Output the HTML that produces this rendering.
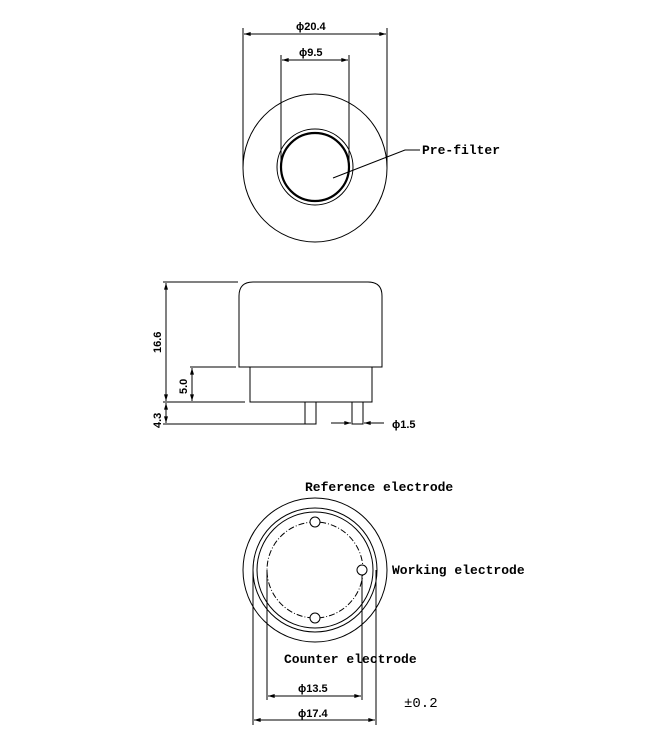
<!DOCTYPE html>
<html><head><style>
html,body{margin:0;padding:0;background:#fff;width:646px;height:744px;overflow:hidden}
svg{display:block}
text{font-family:"Liberation Mono",monospace;fill:#000}
.b{font-family:"Liberation Sans",sans-serif;font-weight:bold;font-size:11px}
</style></head><body>
<svg width="646" height="744" viewBox="0 0 646 744" xmlns="http://www.w3.org/2000/svg">
<defs>
<marker id="a" viewBox="0 0 10 6" refX="10" refY="3" markerWidth="7" markerHeight="4" markerUnits="userSpaceOnUse" orient="auto-start-reverse"><path d="M0,0 L10,3 L0,6 Z" fill="#000"/></marker>
</defs>
<g fill="none" stroke="#000" stroke-width="1">
<ellipse cx="315" cy="168" rx="72" ry="74"/>
<circle cx="315" cy="167" r="38"/>
<circle cx="315" cy="167" r="34" stroke-width="2.2"/>
<line x1="243" y1="28" x2="243" y2="168"/>
<line x1="387" y1="28" x2="387" y2="168"/>
<line x1="281" y1="55" x2="281" y2="165"/>
<line x1="349" y1="55" x2="349" y2="165"/>
<line x1="244" y1="34" x2="386" y2="34" marker-start="url(#a)" marker-end="url(#a)"/>
<line x1="282" y1="60" x2="348" y2="60" marker-start="url(#a)" marker-end="url(#a)"/>
<polyline points="333,178 405,150 420,150"/>
<path d="M239,367 L239,296 Q239,282 253,282 L368,282 Q382,282 382,296 L382,367 Z"/>
<rect x="250" y="367" width="122" height="35"/>
<rect x="305" y="402" width="11" height="22"/>
<rect x="352" y="402" width="11" height="22"/>
<line x1="163" y1="282" x2="238" y2="282"/>
<line x1="190" y1="367" x2="236" y2="367"/>
<line x1="163" y1="402" x2="245" y2="402"/>
<line x1="163" y1="424" x2="305" y2="424"/>
<line x1="166" y1="283" x2="166" y2="401" marker-start="url(#a)" marker-end="url(#a)"/>
<line x1="192" y1="368" x2="192" y2="401" marker-start="url(#a)" marker-end="url(#a)"/>
<line x1="166" y1="403" x2="166" y2="423" marker-start="url(#a)" marker-end="url(#a)"/>
<line x1="331" y1="423" x2="351" y2="423" marker-end="url(#a)"/>
<line x1="384" y1="423" x2="364" y2="423" marker-end="url(#a)"/>
<circle cx="315" cy="570" r="72"/>
<circle cx="315" cy="570" r="62"/>
<circle cx="315" cy="570" r="58"/>
<circle cx="315" cy="570" r="48" stroke-dasharray="6,2,1,2"/>
<circle cx="315" cy="522" r="5" fill="#fff"/>
<circle cx="362" cy="570" r="5" fill="#fff"/>
<circle cx="315" cy="618" r="5" fill="#fff"/>
<line x1="267" y1="570" x2="267" y2="700"/>
<line x1="362" y1="575" x2="362" y2="700"/>
<line x1="253" y1="570" x2="253" y2="725"/>
<line x1="376" y1="570" x2="376" y2="725"/>
<line x1="268" y1="696" x2="361" y2="696" marker-start="url(#a)" marker-end="url(#a)"/>
<line x1="254" y1="720" x2="375" y2="720" marker-start="url(#a)" marker-end="url(#a)"/>
</g>
<text class="b" x="296" y="30">ϕ20.4</text>
<text class="b" x="299" y="56">ϕ9.5</text>
<text x="422" y="154" font-size="13" font-weight="bold">Pre-filter</text>
<text class="b" transform="translate(161,353) rotate(-90)">16.6</text>
<text class="b" transform="translate(187,394) rotate(-90)">5.0</text>
<text class="b" transform="translate(161,428) rotate(-90)">4.3</text>
<text class="b" x="392" y="428">ϕ1.5</text>
<text x="305" y="491" font-size="13" font-weight="bold">Reference electrode</text>
<text x="392" y="574" font-size="13" font-weight="bold">Working electrode</text>
<text x="284" y="663" font-size="13" font-weight="bold">Counter electrode</text>
<text class="b" x="298" y="692">ϕ13.5</text>
<text class="b" x="298" y="717">ϕ17.4</text>
<text x="404" y="707" font-size="14">±0.2</text>
</svg>
</body></html>
